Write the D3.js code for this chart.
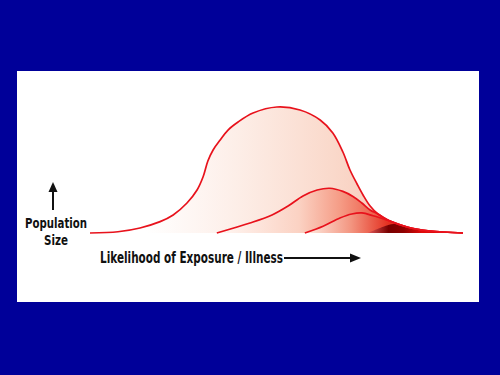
<!DOCTYPE html>
<html>
<head>
<meta charset="utf-8">
<title>Population size vs likelihood of exposure</title>
<style>
body {
  margin: 0;
  background: #000099;
}
svg {
  display: block;
}
.lbl {
  font-family: "Liberation Sans Narrow", "DejaVu Sans Condensed", "Roboto Condensed", sans-serif;
  font-weight: bold;
  font-size: 15px;
  fill: #111;
}
.ylab {
  font-size: 14px;
}
</style>
</head>
<body>
<div id="vis"></div>
<script src="https://d3js.org/d3.v7.min.js"></script>
<script>

// likelihood (0-10) and population size (0-100, peak of whole population = 100)
var allX  = [0, 0.75, 1.34, 1.88, 2.23, 2.60, 2.87, 3.03, 3.16, 3.30, 3.49, 3.70, 3.97, 4.37, 5.01, 5.63, 6.17, 6.51, 6.78, 6.97, 7.16, 7.32, 7.51, 7.72, 8.04, 8.50, 9.12, 10];
var allY  = [0, 1.0, 4.0, 9.0, 14.3, 23.8, 34.1, 44.4, 57.1, 65.9, 73.8, 81.7, 88.1, 95.2, 100, 97.6, 89.7, 79.4, 64.3, 50.0, 38.9, 30.2, 21.4, 15.1, 9.5, 4.8, 1.6, 0];

var exposedX = [3.40, 4.29, 4.88, 5.31, 5.71, 6.09, 6.43, 6.78, 7.05, 7.29, 7.51, 7.72, 8.04, 8.50, 9.12, 10];
var exposedY = [0, 7.9, 14.3, 21.4, 29.4, 34.1, 35.5, 33.0, 29.0, 23.8, 18.3, 15.1, 9.5, 4.8, 1.6, 0];

var illX = [5.76, 6.25, 6.70, 7.02, 7.29, 7.59, 8.04, 8.50, 9.12, 10];
var illY = [0, 5.4, 11.9, 15.1, 15.9, 13.7, 9.5, 4.8, 1.6, 0];

var severeX = [7.45, 7.96, 8.20, 8.50, 9.12, 10];
var severeY = [0, 6.0, 7.4, 4.8, 1.6, 0];

var yLabel = ["Population", "Size"];
var yLabelWidth = [62, 24];
var xLabel = "Likelihood of Exposure / Illness";

var W = 500, H = 375;

var svg = d3.select("#vis").append("svg")
    .attr("width", W)
    .attr("height", H);

// white panel
svg.append("rect")
    .attr("x", 17).attr("y", 71)
    .attr("width", 462).attr("height", 231)
    .attr("fill", "#fff");

var x = d3.scaleLinear().domain([0, 10]).range([90, 463]);
var y = d3.scaleLinear().domain([0, 100]).range([233, 107]);

function pts(xs, ys) {
  return xs.map(function(d, i) { return [d, ys[i]]; });
}

var series = [
  { name: "all",     data: pts(allX, allY),         stroke: true,
    stops: [[1.5, "#ffffff"], [3.8, "#fdefe9"], [6.5, "#fad9cb"], [8.5, "#f8c6b5"]] },
  { name: "exposed", data: pts(exposedX, exposedY), stroke: true,
    stops: [[3.5, "#fff6f2"], [5.6, "#fbd2c3"], [6.7, "#f59c86"], [7.8, "#ec5642"]] },
  { name: "ill",     data: pts(illX, illY),         stroke: true,
    stops: [[5.9, "#fde3d8"], [7.0, "#f39580"], [8.0, "#e43020"]] },
  { name: "severe",  data: pts(severeX, severeY),   stroke: false,
    stops: [[7.5, "#d85050"], [8.0, "#780000"], [8.4, "#8e0000"], [8.9, "#e00a0a"]] }
];

var defs = svg.append("defs");
series.forEach(function(s) {
  var g = defs.append("linearGradient")
      .attr("id", "g-" + s.name)
      .attr("gradientUnits", "userSpaceOnUse")
      .attr("x1", x(0)).attr("x2", x(10))
      .attr("y1", 0).attr("y2", 0);
  g.selectAll("stop").data(s.stops).enter().append("stop")
      .attr("offset", function(d) { return (d[0] / 10 * 100) + "%"; })
      .attr("stop-color", function(d) { return d[1]; });
});

var curve = d3.curveCatmullRom.alpha(0.5);

var area = d3.area()
    .x(function(d) { return x(d[0]); })
    .y0(y(0))
    .y1(function(d) { return y(d[1]); })
    .curve(curve);

var line = d3.line()
    .x(function(d) { return x(d[0]); })
    .y(function(d) { return y(d[1]); })
    .curve(curve);

var g = svg.append("g");

g.selectAll("path.area").data(series).enter().append("path")
    .attr("class", "area")
    .attr("d", function(d) { return area(d.data); })
    .attr("fill", function(d) { return "url(#g-" + d.name + ")"; });

g.selectAll("path.line").data(series.filter(function(d) { return d.stroke; })).enter().append("path")
    .attr("class", "line")
    .attr("d", function(d) { return line(d.data); })
    .attr("fill", "none")
    .attr("stroke", "#e8121c")
    .attr("stroke-width", 1.7);

// axis labels
svg.selectAll("text.ylab").data(yLabel).enter().append("text")
    .attr("class", "lbl ylab")
    .attr("x", 56)
    .attr("y", function(d, i) { return 228 + i * 17; })
    .attr("text-anchor", "middle")
    .attr("textLength", function(d, i) { return yLabelWidth[i]; })
    .attr("lengthAdjust", "spacingAndGlyphs")
    .text(function(d) { return d; });

svg.append("text")
    .attr("class", "lbl")
    .attr("x", 100)
    .attr("y", 263)
    .attr("textLength", 183)
    .attr("lengthAdjust", "spacingAndGlyphs")
    .text(xLabel);

// arrows
svg.append("line")
    .attr("x1", 53).attr("y1", 210).attr("x2", 53).attr("y2", 189)
    .attr("stroke", "#111").attr("stroke-width", 2);
svg.append("path")
    .attr("d", "M53,182 L48.5,192 L57.5,192 Z")
    .attr("fill", "#111");

svg.append("line")
    .attr("x1", 284).attr("y1", 258).attr("x2", 352).attr("y2", 258)
    .attr("stroke", "#111").attr("stroke-width", 2);
svg.append("path")
    .attr("d", "M361,258 L350,253.5 L350,262.5 Z")
    .attr("fill", "#111");

</script>
</body>
</html>
